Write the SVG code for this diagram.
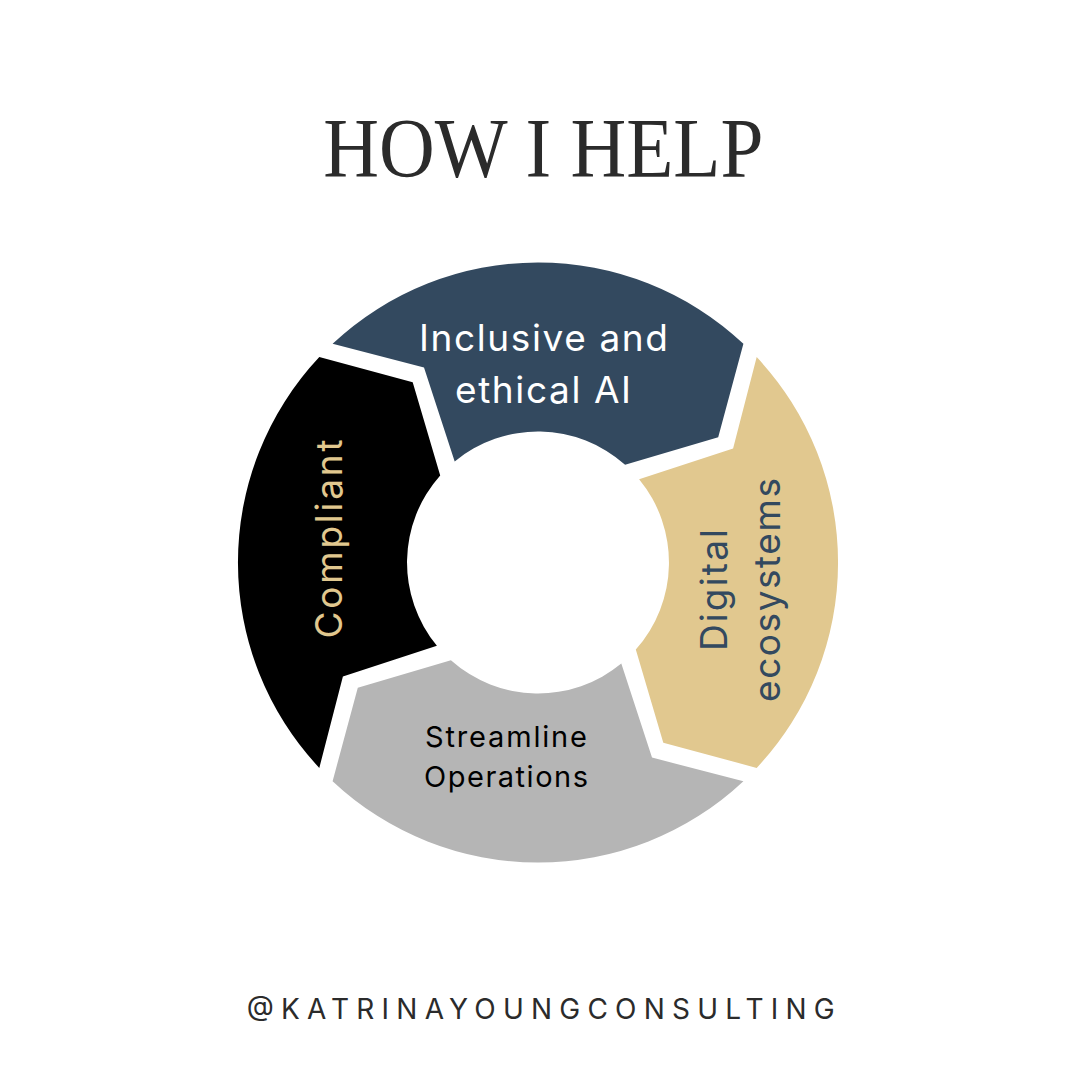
<svg xmlns="http://www.w3.org/2000/svg" width="1080" height="1080" viewBox="0 0 1080 1080">
  <style>
    .lbl { font-family: Inter, "DejaVu Sans", sans-serif; }
    .big { font-size: 37px; }
    .small { font-size: 29px; }
  </style>
  <defs>
    <path id="seg" d="M 332.6 343.8 A 300 300 0 0 1 743.4 343.8 L 718.2 437.2 L 625.1 464.7 A 131 131 0 0 0 454.7 461.4 L 424.0 367.4 Z"/>
  </defs>
  <rect width="1080" height="1080" fill="#ffffff"/>
  <g id="title">
    <text x="543.3" y="177.3" text-anchor="middle" font-family="'Liberation Serif', 'DejaVu Serif', serif" font-size="84" fill="#2b2b2b" textLength="440" lengthAdjust="spacingAndGlyphs">HOW I HELP</text>
  </g>
  <g id="connectors"/>
  <g id="node-inclusive">
    <use href="#seg" fill="#33495f"/>
    <text class="lbl big" x="543.5" y="351" text-anchor="middle" fill="#ffffff" textLength="249" lengthAdjust="spacing">Inclusive and</text>
    <text class="lbl big" x="543" y="403" text-anchor="middle" fill="#ffffff" textLength="176" lengthAdjust="spacing">ethical AI</text>
  </g>
  <g id="node-digital">
    <use href="#seg" fill="#e1c88f" transform="rotate(90 538 562.5)"/>
    <text class="lbl big" transform="translate(727 590) rotate(-90)" x="0" y="0" text-anchor="middle" fill="#33495f" textLength="122" lengthAdjust="spacing">Digital</text>
    <text class="lbl big" transform="translate(780 590) rotate(-90)" x="0" y="0" text-anchor="middle" fill="#33495f" textLength="224" lengthAdjust="spacing">ecosystems</text>
  </g>
  <g id="node-streamline">
    <use href="#seg" fill="#b5b5b5" transform="rotate(180 538 562.5)"/>
    <text class="lbl small" x="506" y="746.7" text-anchor="middle" fill="#000000" textLength="162" lengthAdjust="spacing">Streamline</text>
    <text class="lbl small" x="506" y="786.5" text-anchor="middle" fill="#000000" textLength="164" lengthAdjust="spacing">Operations</text>
  </g>
  <g id="node-compliant">
    <use href="#seg" fill="#000000" transform="rotate(270 538 562.5)"/>
    <text class="lbl big" transform="translate(342 539) rotate(-90)" x="0" y="0" text-anchor="middle" fill="#e1c88f" textLength="199" lengthAdjust="spacing">Compliant</text>
  </g>
  <g id="footer">
    <text class="lbl" x="246.7" y="1018.5" font-size="28" fill="#2b2b2b" textLength="588" lengthAdjust="spacing">@KATRINAYOUNGCONSULTING</text>
  </g>
</svg>
